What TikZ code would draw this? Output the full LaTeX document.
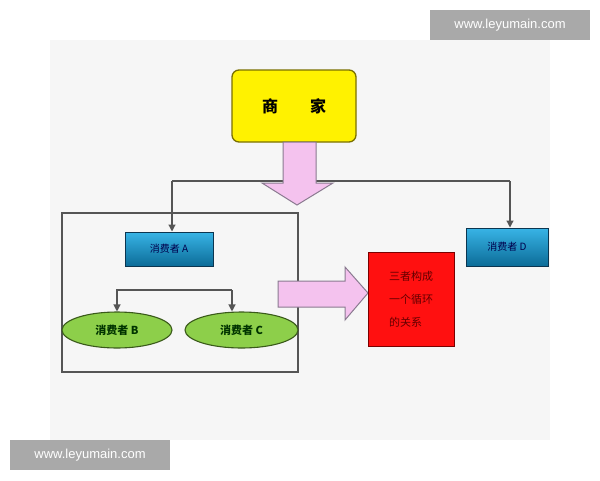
\documentclass[tikz,border=0pt]{standalone}
\usepackage{fontspec}
\setmainfont{Liberation Sans}
\newfontfamily\cjk{Noto Sans CJK SC}
\usetikzlibrary{shapes.geometric,arrows.meta,shapes.arrows}
\definecolor{bgpanel}{HTML}{F6F6F6}
\definecolor{wmgray}{HTML}{A9A9A9}
\definecolor{ylw}{HTML}{FFF200}
\definecolor{ylwborder}{HTML}{7A7000}
\definecolor{pinkfill}{HTML}{F4C2EE}
\definecolor{pinkborder}{HTML}{8A7A90}
\definecolor{bluetop}{HTML}{38B4E6}
\definecolor{bluebot}{HTML}{0C6C98}
\definecolor{blueborder}{HTML}{0B3550}
\definecolor{greenfill}{HTML}{8DCF4A}
\definecolor{greenborder}{HTML}{3A5A1A}
\definecolor{linegray}{HTML}{555555}
\definecolor{redfill}{HTML}{FF1010}
\definecolor{redborder}{HTML}{7A0000}
\begin{document}
\begin{tikzpicture}[x=1pt,y=-1pt,
  wm/.style={fill=wmgray,text=white,font=\fontsize{13}{15}\selectfont,inner sep=0pt,minimum width=160pt,minimum height=30pt},
  merchant/.style={draw=ylwborder,line width=1.3pt,fill=ylw,rounded corners=7pt,minimum width=124pt,minimum height=72pt,font=\cjk\bfseries\fontsize{16}{18}\selectfont},
  bluebox/.style={draw=blueborder,line width=1pt,top color=bluetop,bottom color=bluebot,font=\cjk\fontsize{10}{12}\selectfont,text=blue!30!black,inner sep=0pt},
  greenell/.style={ellipse,draw=greenborder,line width=1.1pt,fill=greenfill,minimum width=110pt,minimum height=36pt,inner sep=0pt,font=\cjk\bfseries\fontsize{11}{13}\selectfont,text=green!20!black},
  redbox/.style={draw=redborder,line width=1pt,fill=redfill,minimum width=86pt,minimum height=94pt,inner sep=0pt,font=\cjk\fontsize{11}{23}\selectfont,text=red!40!black,align=left},
  conn/.style={draw=linegray,line width=1.2pt},
  tip/.style={-{Triangle[length=7pt,width=7pt]}},
  pinkarrow/.style={fill=pinkfill,draw=pinkborder,line width=1pt,line join=miter}
]
\useasboundingbox (0,0) rectangle (600,480);
\fill[white] (0,0) rectangle (600,480);
\fill[bgpanel] (50,40) rectangle (550,440);

% group frame
\node[draw=linegray,line width=1.3pt,minimum width=236pt,minimum height=159pt,inner sep=0pt] (grp) at (180,292.5) {};

% merchant
\node[merchant] (m) at (294,106) {商\hspace{2em}家};

% top connector
\coordinate (jl) at (172,181);
\coordinate (jr) at (510,181);
\node[bluebox,minimum width=88pt,minimum height=34pt] (a) at (169,249) {消费者 A};
\node[bluebox,minimum width=82pt,minimum height=38pt] (d) at (507,247) {消费者 D};
\draw[conn] (jl) -- (jr);
\draw[conn,tip] (jl) -- (jl |- a.north);
\draw[conn,tip] (jr) -- (jr |- d.north);

% pink down arrow
\draw[pinkarrow] (283,142) -- (316,142) -- (316,183) -- (333,183) -- (297,205) -- (262,183) -- (283,183) -- cycle;

% ellipses
\node[greenell] (b) at (117,330) {消费者 B};
\node[greenell,minimum width=113pt] (c) at (241.5,330) {消费者 C};
\coordinate (bl) at (117,290);
\coordinate (br) at (232,290);
\draw[conn,tip] (br) -- (bl) -- (b.north);
\draw[conn,tip] (br) -- (br |- c.north);

% pink right arrow
\draw[pinkarrow] (278,281) -- (345,281) -- (345,267) -- (368,293) -- (345,320) -- (345,307) -- (278,307) -- cycle;

% red box
\node[redbox] (r) at (411,299) {三者构成\\一个循环\\的关系};

% watermarks
\node[wm] (w1) at (510,25) {www.leyumain.com};
\node[wm] (w2) at (90,455) {www.leyumain.com};
\end{tikzpicture}
\end{document}
